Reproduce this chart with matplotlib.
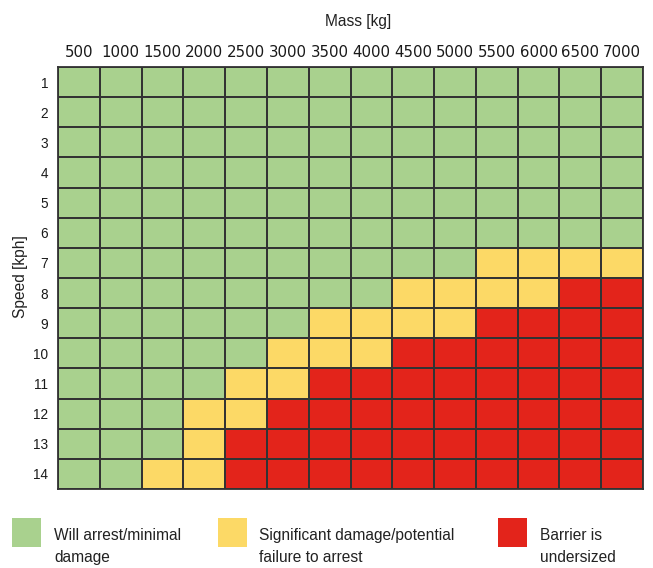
import matplotlib
matplotlib.use("Agg")
import numpy as np
from matplotlib import pyplot as plt
from matplotlib import font_manager
from matplotlib.colors import ListedColormap
from matplotlib.patches import Rectangle

masses = [500, 1000, 1500, 2000, 2500, 3000, 3500, 4000, 4500, 5000, 5500, 6000, 6500, 7000]
speeds = [1, 2, 3, 4, 5, 6, 7, 8, 9, 10, 11, 12, 13, 14]
# 0 = will arrest, 1 = significant damage, 2 = barrier undersized
levels = [
    [0, 0, 0, 0, 0, 0, 0, 0, 0, 0, 0, 0, 0, 0],
    [0, 0, 0, 0, 0, 0, 0, 0, 0, 0, 0, 0, 0, 0],
    [0, 0, 0, 0, 0, 0, 0, 0, 0, 0, 0, 0, 0, 0],
    [0, 0, 0, 0, 0, 0, 0, 0, 0, 0, 0, 0, 0, 0],
    [0, 0, 0, 0, 0, 0, 0, 0, 0, 0, 0, 0, 0, 0],
    [0, 0, 0, 0, 0, 0, 0, 0, 0, 0, 0, 0, 0, 0],
    [0, 0, 0, 0, 0, 0, 0, 0, 0, 0, 1, 1, 1, 1],
    [0, 0, 0, 0, 0, 0, 0, 0, 1, 1, 1, 1, 2, 2],
    [0, 0, 0, 0, 0, 0, 1, 1, 1, 1, 2, 2, 2, 2],
    [0, 0, 0, 0, 0, 1, 1, 1, 2, 2, 2, 2, 2, 2],
    [0, 0, 0, 0, 1, 1, 2, 2, 2, 2, 2, 2, 2, 2],
    [0, 0, 0, 1, 1, 2, 2, 2, 2, 2, 2, 2, 2, 2],
    [0, 0, 0, 1, 2, 2, 2, 2, 2, 2, 2, 2, 2, 2],
    [0, 0, 1, 1, 2, 2, 2, 2, 2, 2, 2, 2, 2, 2],
]
legend_labels = ["Will arrest/minimal\ndamage",
                 "Significant damage/potential\nfailure to arrest",
                 "Barrier is\nundersized"]
colors = ["#a9d18e", "#fcd966", "#e3241b"]

# condensed font if we have it, else plain Liberation Sans a bit smaller
names = set(f.name for f in font_manager.fontManager.ttflist)
if "Liberation Sans Narrow" in names:
    narrow, lab_size, ytick_size = "Liberation Sans Narrow", 13.5, 11
else:
    narrow, lab_size, ytick_size = "Liberation Sans", 11.2, 9.8

W, H = 653, 568
fig = plt.figure(figsize=(W / 100, H / 100), dpi=100)
ax = fig.add_axes([58 / W, (H - 489) / H, 585 / W, 422 / H])

grid = np.array(levels)
ax.pcolormesh(np.arange(15), np.arange(15), grid, cmap=ListedColormap(colors),
              vmin=-0.5, vmax=2.5, edgecolors="#333333", linewidth=1.3)
ax.set_xlim(0, 14)
ax.set_ylim(14, 0)

ax.xaxis.tick_top()
ax.set_xticks(np.arange(14) + 0.5)
ax.set_xticklabels([str(m) for m in masses], fontsize=10.8, family="DejaVu Sans", color="#1a1a1a")
ax.set_yticks(np.arange(14) + 0.5)
ax.set_yticklabels([str(s) for s in speeds], fontsize=ytick_size, family=narrow, color="#1a1a1a")
ax.tick_params(axis="x", length=0, pad=5)
ax.tick_params(axis="y", length=0, pad=7)
for sp in ax.spines.values():
    sp.set_color("#333333")
    sp.set_linewidth(1.3)

fig.text(358 / W, 1 - 25.7 / H, "Mass [kg]", ha="center", va="baseline",
         fontsize=lab_size, family=narrow, color="#222222")
fig.text(21 / W, 1 - 276.5 / H, "Speed [kph]", ha="center", va="center", rotation=90,
         fontsize=lab_size, family=narrow, color="#222222")

# legend
box_x = [12, 218, 498]
text_x = [54, 259, 540]
for i in range(3):
    fig.add_artist(Rectangle((box_x[i] / W, 1 - 547 / H), 29 / W, 29 / H,
                             transform=fig.transFigure, facecolor=colors[i], edgecolor="none"))
    lines = legend_labels[i].split("\n")
    for j, line in enumerate(lines):
        fig.text(text_x[i] / W, 1 - (540 + 22 * j) / H, line, ha="left", va="baseline",
                 fontsize=lab_size, family=narrow, color="#222222")

fig.savefig("out.png", dpi=100)
